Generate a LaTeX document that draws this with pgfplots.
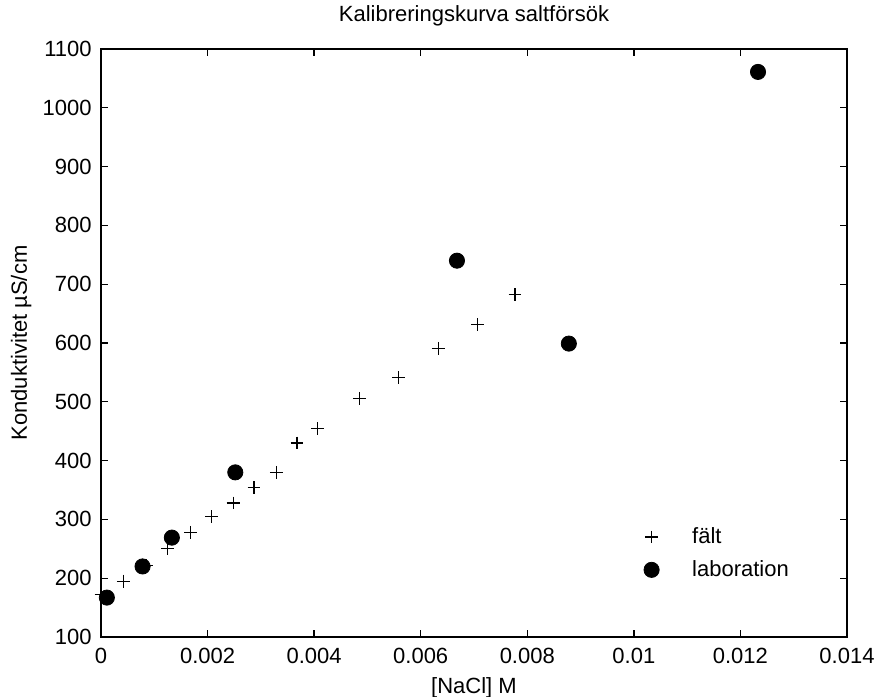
\documentclass[border=0pt]{standalone}
\usepackage{fontspec}
\setmainfont{Liberation Sans}
\usepackage{pgfplots}
\pgfplotsset{compat=1.18}
\begin{document}
\begin{tikzpicture}[font=\fontsize{11}{13.2}\selectfont]
\path[use as bounding box] (-50.5pt,-30pt) rectangle (387pt,318.5pt);
\begin{axis}[
  scale only axis, width=373pt, height=294pt,
  at={(0pt,0pt)}, anchor=south west,
  xmin=0, xmax=0.014, ymin=100, ymax=1100,
  xtick={0,0.002,0.004,0.006,0.008,0.01,0.012,0.014},
  xticklabels={0,0.002,0.004,0.006,0.008,0.01,0.012,0.014},
  ytick={100,200,...,1100},
  /pgf/number format/assume math mode=true,
  /pgf/number format/1000 sep={},
  scaled x ticks=false, scaled y ticks=false,
  tick align=inside, major tick length=3.5pt,
  axis line style={line width=0.65pt},
  every tick/.style={black, line width=0.65pt},
  xticklabel style={inner sep=0pt, anchor=north, yshift=-5.5pt},
  yticklabel style={inner sep=0pt, anchor=east, xshift=-4.5pt},
  title={Kalibreringskurva saltförsök},
  title style={at={(axis description cs:0.5,1.0272)}, anchor=base, inner sep=0pt},
  xlabel={[NaCl] M},
  xlabel style={at={(axis description cs:0.5,-0.0969)}, anchor=base, inner sep=0pt},
  ylabel={Konduktivitet µS/cm},
  ylabel style={at={(axis description cs:-0.0992,0.5)}, anchor=base, inner sep=0pt},
  legend style={at={(axis description cs:0.7158,0.1422)}, anchor=west, draw=none, fill=none,
    inner sep=0pt, outer sep=0pt, row sep=3pt, cells={anchor=west}},
  legend image code/.code={\path (-8pt,0pt) (18pt,0pt); \draw[#1] plot coordinates {(0pt,0pt)};},
]
\addplot[only marks, mark=+, mark size=3.2pt, line width=0.6pt, black] table {
x y
0.00000 172
0.00042 195
0.00086 221
0.00125 251
0.00168 278
0.00208 305
0.00248 328
0.00287 354
0.00329 380
0.00368 430
0.00407 454
0.00485 506
0.00559 541
0.00633 591
0.00707 631
0.00777 682
};
\addlegendentry{fält}
\addplot[only marks, mark=*, mark size=3.8pt, black, mark options={fill=black}] table {
x y
0.00011 167
0.00078 220
0.00133 269
0.00252 380
0.00668 740
0.00878 599
0.01233 1061
};
\addlegendentry{laboration}
\end{axis}
\end{tikzpicture}
\end{document}
